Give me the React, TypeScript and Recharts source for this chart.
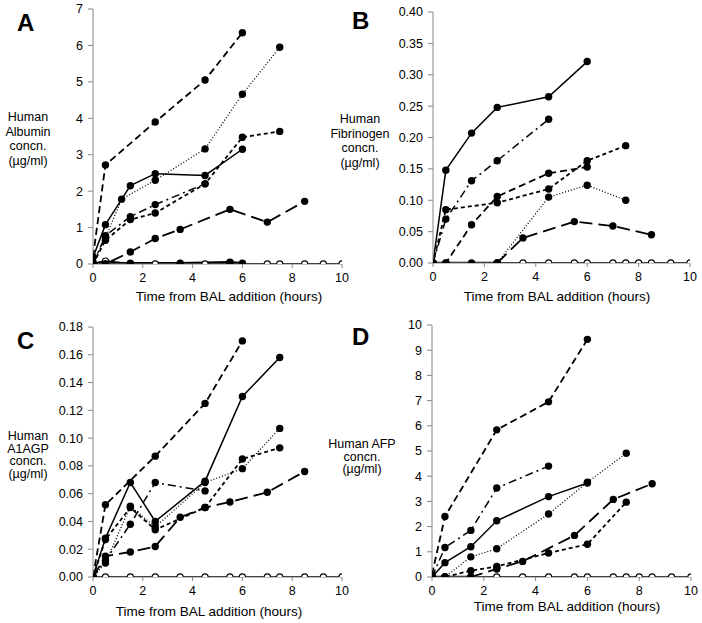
import React from 'react'
import { LineChart, Line, XAxis, YAxis } from 'recharts'

// time (hours) vs concentration (µg/ml)
const X_TICKS = [0, 2, 4, 6, 8, 10]

// A: Albumin
const A_SOLID = [[0, 0.18], [0.5, 1.08], [1.5, 2.15], [2.5, 2.48], [4.5, 2.43], [6, 3.15]]
const A_DOTTED = [[0, 0.05], [0.5, 0.72], [1.15, 1.78], [2.5, 2.3], [4.5, 3.16], [6, 4.66], [7.5, 5.95]]
const A_MED_DASH = [[0, 0.2], [0.5, 2.72], [2.5, 3.9], [4.5, 5.05], [6, 6.35]]
const A_SHORT_DASH = [[0, 0], [0.5, 0.65], [1.5, 1.22], [2.5, 1.4], [4.5, 2.2], [6, 3.48], [7.5, 3.64]]
const A_DASH_DOT = [[0, 0], [0.5, 0.78], [1.5, 1.3], [2.5, 1.63], [4.5, 2.2]]
const A_LONG_DASH = [[0, 0], [0.5, 0], [1.5, 0.33], [2.5, 0.7], [3.5, 0.95], [5.5, 1.5], [7, 1.15], [8.5, 1.72]]
const A_CONTROL = [[0, 0], [0.5, 0.08], [1.5, 0], [2.5, 0], [3.5, 0], [4.5, 0], [5.5, 0.04], [6, 0], [7, 0], [7.5, 0], [8.5, 0], [9.25, 0], [10, 0]]
const A_BASE = [[0, 0], [0.5, 0], [1.5, 0.02], [3.5, 0.02], [5.5, 0.05], [6, 0.02]]
const A_Y_TICKS = [0, 1, 2, 3, 4, 5, 6, 7]

// B: Fibrinogen
const B_SOLID = [[0, 0], [0.5, 0.148], [1.5, 0.207], [2.5, 0.248], [4.5, 0.265], [6, 0.321]]
const B_DOTTED = [[0, 0], [2.5, 0], [4.5, 0.105], [6, 0.124], [7.5, 0.1]]
const B_MED_DASH = [[0, 0], [0.5, 0], [1.5, 0.061], [2.5, 0.106], [4.5, 0.143], [6, 0.153]]
const B_SHORT_DASH = [[0, 0], [0.5, 0.085], [2.5, 0.096], [4.5, 0.118], [6, 0.163], [7.5, 0.187]]
const B_DASH_DOT = [[0, 0], [0.5, 0.07], [1.5, 0.131], [2.5, 0.163], [4.5, 0.229]]
const B_LONG_DASH = [[2.5, 0], [3.5, 0.04], [5.5, 0.066], [7, 0.059], [8.5, 0.045]]
const B_CONTROL = [[0, 0], [3.5, 0], [4.5, 0], [5.5, 0], [6, 0], [7, 0], [7.5, 0], [8, 0], [8.5, 0], [9.25, 0], [10, 0]]
const B_BASE = [[0, 0], [0.5, 0], [1.5, 0], [2.5, 0]]
const B_Y_TICKS = [0, 0.05, 0.1, 0.15, 0.2, 0.25, 0.3, 0.35, 0.4]

// C: A1AGP
const C_SOLID = [[0, 0], [0.5, 0.028], [1.5, 0.068], [2.5, 0.04], [4.5, 0.069], [6, 0.13], [7.5, 0.158]]
const C_DOTTED = [[0, 0], [0.5, 0.01], [1.5, 0.051], [2.5, 0.036], [4.5, 0.068], [6, 0.078], [7.5, 0.107]]
const C_MED_DASH = [[0, 0], [0.5, 0.052], [2.5, 0.087], [4.5, 0.125], [6, 0.17]]
const C_SHORT_DASH = [[0, 0], [0.5, 0.027], [1.5, 0.05], [2.5, 0.034], [4.5, 0.05], [6, 0.085], [7.5, 0.093]]
const C_DASH_DOT = [[0, 0], [0.5, 0.012], [1.5, 0.038], [2.5, 0.068], [4.5, 0.062]]
const C_LONG_DASH = [[0, 0], [0.5, 0.015], [1.5, 0.018], [2.5, 0.022], [3.5, 0.043], [4.5, 0.05], [5.5, 0.054], [7, 0.061], [8.5, 0.076]]
const C_CONTROL = [[0, 0], [0.5, 0], [1.5, 0], [2.5, 0], [3.5, 0], [4.5, 0], [5.5, 0], [6, 0], [7, 0], [7.5, 0], [8.5, 0], [9.25, 0], [10, 0]]
const C_BASE = [[0, 0]]
const C_Y_TICKS = [0, 0.02, 0.04, 0.06, 0.08, 0.1, 0.12, 0.14, 0.16, 0.18]

// D: AFP
const D_SOLID = [[0, 0], [0.5, 0.57], [1.5, 1.2], [2.5, 2.23], [4.5, 3.19], [6, 3.73]]
const D_DOTTED = [[0, 0], [0.5, 0], [1.5, 0.8], [2.5, 1.12], [4.5, 2.5], [6, 3.76], [7.5, 4.91]]
const D_MED_DASH = [[0, 0.1], [0.5, 2.4], [2.5, 5.84], [4.5, 6.95], [6, 9.43]]
const D_SHORT_DASH = [[0, 0], [0.5, 0], [1.5, 0.25], [2.5, 0.42], [4.5, 0.95], [6, 1.3], [7.5, 2.97]]
const D_DASH_DOT = [[0, 0], [0.5, 1.17], [1.5, 1.85], [2.5, 3.53], [4.5, 4.4]]
const D_LONG_DASH = [[0, 0], [0.5, 0], [1.5, 0], [2.5, 0.32], [3.5, 0.62], [5.5, 1.65], [7, 3.08], [8.5, 3.7]]
const D_CONTROL = [[0, 0], [2.5, 0], [3.5, 0], [4.5, 0], [5.5, 0], [6, 0], [7, 0], [7.5, 0], [8, 0], [8.5, 0], [9.25, 0], [10, 0]]
const D_BASE = [[0, 0], [0.5, 0], [1.5, 0]]
const D_Y_TICKS = [0, 1, 2, 3, 4, 5, 6, 7, 8, 9, 10]

const FONT = '"Liberation Sans", Arial, sans-serif'
const AXIS_GREY = '#868686'

const toPts = (arr: number[][]) => arr.map(([x, y]) => ({ x, y }))

const FILLED = { r: 3.7, fill: '#000', stroke: '#000', strokeWidth: 0 }
const OPEN = { r: 3.1, fill: '#fff', stroke: '#000', strokeWidth: 1.1 }

// line look for each series kind
const STYLES: { [k: string]: any } = {
  control: { dash: undefined, width: 2.2, dot: OPEN },
  solid: { dash: undefined, width: 1.5, dot: FILLED },
  dotted: { dash: '1 2', width: 1.3, dot: FILLED },
  medDash: { dash: '7 4', width: 1.8, dot: FILLED },
  shortDash: { dash: '4 3', width: 1.8, dot: FILLED },
  dashDot: { dash: '8 4 2 4', width: 1.5, dot: FILLED },
  longDash: { dash: '13 6', width: 1.8, dot: FILLED },
  base: { dash: undefined, width: 2.6, dot: FILLED },
}

interface PanelProps {
  letter: string
  left: number
  top: number
  w: number
  h: number
  yMax: number
  yTicks: number[]
  decimals: number
  series: { [k: string]: number[][] }
  yLabel: string[]
  yLabelX: number
  yLabelY: number
  lineH: number
  xLabelX: number
  xLabelY: number
  letterX: number
  letterY: number
}

function Panel(p: PanelProps) {
  const YW = 50
  const MT = 10
  const MR = 14
  const XH = 30
  const order = ['control', 'longDash', 'shortDash', 'dashDot', 'dotted', 'medDash', 'solid', 'base']
  return (
    <>
      <div style={{ position: 'absolute', left: p.left - YW, top: p.top - MT }}>
        <LineChart
          width={p.w + YW + MR}
          height={p.h + MT + XH}
          margin={{ top: MT, right: MR, left: 0, bottom: 0 }}
        >
          <XAxis
            type="number"
            dataKey="x"
            domain={[0, 10]}
            ticks={X_TICKS}
            height={XH}
            axisLine={{ stroke: AXIS_GREY }}
            tickLine={{ stroke: AXIS_GREY }}
            tickSize={4}
            tickMargin={5}
            tick={{ fill: '#000', fontSize: 12.5, fontFamily: FONT }}
            allowDataOverflow
          />
          <YAxis
            type="number"
            domain={[0, p.yMax]}
            ticks={p.yTicks}
            width={YW}
            axisLine={{ stroke: AXIS_GREY }}
            tickLine={{ stroke: AXIS_GREY }}
            tickSize={5}
            tickMargin={5}
            tick={{ fill: '#000', fontSize: 12.5, fontFamily: FONT }}
            tickFormatter={(v: number) => v.toFixed(p.decimals)}
            allowDataOverflow
          />
          {order.filter(k => p.series[k]).map(k => (
            <Line
              key={k}
              data={toPts(p.series[k])}
              dataKey="y"
              type="linear"
              stroke="#000"
              strokeWidth={STYLES[k].width}
              strokeDasharray={STYLES[k].dash}
              dot={STYLES[k].dot}
              activeDot={false}
              isAnimationActive={false}
            />
          ))}
        </LineChart>
      </div>
      <div style={{ position: 'absolute', left: p.letterX, top: p.letterY, fontFamily: FONT, fontWeight: 'bold', fontSize: 24, lineHeight: '24px' }}>
        {p.letter}
      </div>
      <div style={{ position: 'absolute', left: p.yLabelX - 60, top: p.yLabelY, width: 120, textAlign: 'center', fontFamily: FONT, fontSize: 12.5, lineHeight: `${p.lineH}px` }}>
        {p.yLabel.map((t, i) => <div key={i}>{t}</div>)}
      </div>
      <div style={{ position: 'absolute', left: p.xLabelX - 120, top: p.xLabelY - 8, width: 240, textAlign: 'center', fontFamily: FONT, fontSize: 13.5, lineHeight: '16px' }}>
        Time from BAL addition (hours)
      </div>
    </>
  )
}

export default function App() {
  return (
    <div style={{ position: 'absolute', left: 0, top: 0, width: 702, height: 623, background: '#fff' }}>
      <Panel
        letter="A" letterX={17} letterY={11}
        left={93} top={9} w={249} h={255} yMax={7} yTicks={A_Y_TICKS} decimals={0}
        series={{ solid: A_SOLID, dotted: A_DOTTED, medDash: A_MED_DASH, shortDash: A_SHORT_DASH, dashDot: A_DASH_DOT, longDash: A_LONG_DASH, control: A_CONTROL, base: A_BASE }}
        yLabel={['Human', 'Albumin', 'concn.', '(µg/ml)']} yLabelX={28} yLabelY={110} lineH={14.7}
        xLabelX={229} xLabelY={297}
      />
      <Panel
        letter="B" letterX={352} letterY={9}
        left={433} top={12} w={257} h={251} yMax={0.4} yTicks={B_Y_TICKS} decimals={2}
        series={{ solid: B_SOLID, dotted: B_DOTTED, medDash: B_MED_DASH, shortDash: B_SHORT_DASH, dashDot: B_DASH_DOT, longDash: B_LONG_DASH, control: B_CONTROL, base: B_BASE }}
        yLabel={['Human', 'Fibrinogen', 'concn.', '(µg/ml)']} yLabelX={360} yLabelY={112} lineH={14.5}
        xLabelX={557} xLabelY={297}
      />
      <Panel
        letter="C" letterX={17} letterY={329}
        left={93} top={327} w={249} h={250} yMax={0.18} yTicks={C_Y_TICKS} decimals={2}
        series={{ solid: C_SOLID, dotted: C_DOTTED, medDash: C_MED_DASH, shortDash: C_SHORT_DASH, dashDot: C_DASH_DOT, longDash: C_LONG_DASH, control: C_CONTROL, base: C_BASE }}
        yLabel={['Human', 'A1AGP', 'concn.', '(µg/ml)']} yLabelX={28} yLabelY={430} lineH={12.5}
        xLabelX={209} xLabelY={612}
      />
      <Panel
        letter="D" letterX={352} letterY={325}
        left={432} top={325} w={259} h={252} yMax={10} yTicks={D_Y_TICKS} decimals={0}
        series={{ solid: D_SOLID, dotted: D_DOTTED, medDash: D_MED_DASH, shortDash: D_SHORT_DASH, dashDot: D_DASH_DOT, longDash: D_LONG_DASH, control: D_CONTROL, base: D_BASE }}
        yLabel={['Human AFP', 'concn.', '(µg/ml)']} yLabelX={362} yLabelY={438} lineH={12.5}
        xLabelX={567} xLabelY={607}
      />
    </div>
  )
}
